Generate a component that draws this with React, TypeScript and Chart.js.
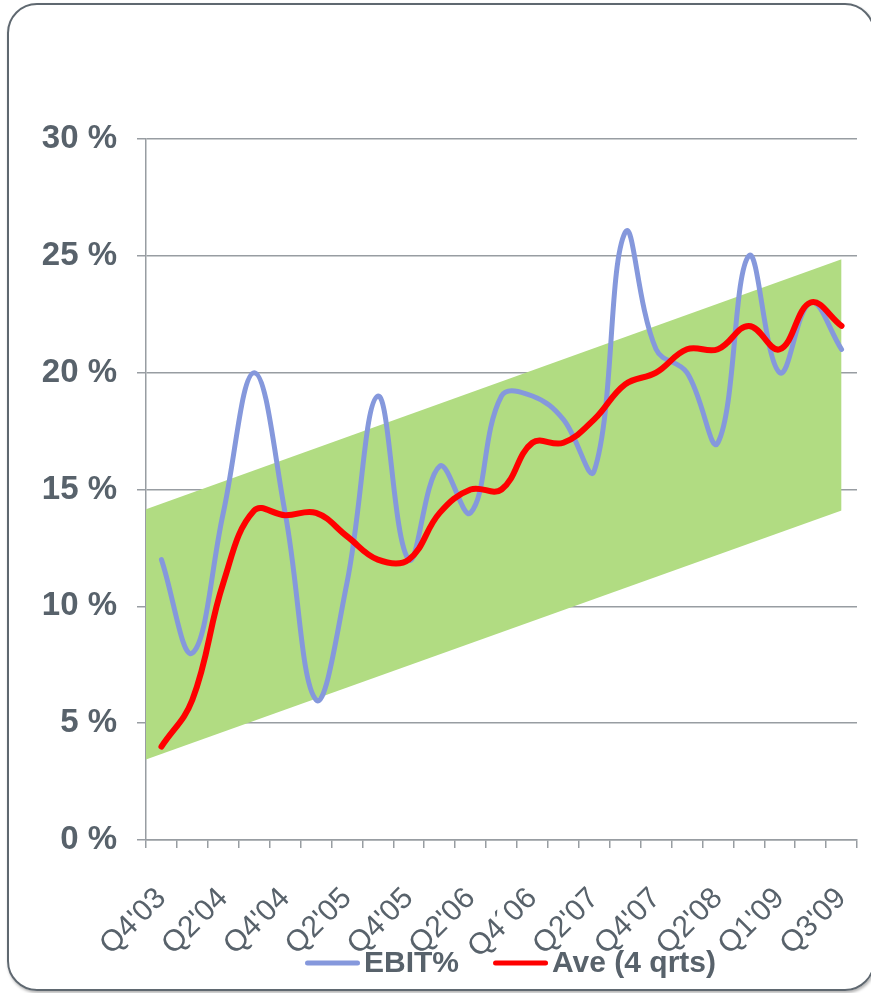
import React, { useEffect, useRef } from 'react';
import { Chart, registerables } from 'chart.js';

Chart.register(...registerables);

// Quarters (category axis); labels shown on every other quarter
const quarters = [
  "Q4'03", "Q1'04", "Q2'04", "Q3'04", "Q4'04", "Q1'05", "Q2'05", "Q3'05",
  "Q4'05", "Q1'06", "Q2'06", "Q3'06", "Q4´06", "Q1'07", "Q2'07", "Q3'07",
  "Q4'07", "Q1'08", "Q2'08", "Q3'08", "Q1'09", "Q2'09", "Q3'09",
];

// EBIT % per quarter
const ebitValues = [12, 8, 14, 20, 14, 6, 11, 19, 12, 16, 14, 19, 19, 18, 15.8, 26, 21, 20, 17, 25, 20, 23, 21];
// 4-quarter average
const aveValues = [4, 6, 11, 14.1, 13.9, 14, 13, 12, 12, 14, 15, 15, 17, 17, 18, 19.5, 20, 21, 21, 22, 21, 23, 22];

// Trend band (positions in category-index units, low / high values in %)
const bandPositions = [-0.5, 22];
const bandLow = [3.45, 14.1];
const bandHigh = [14.15, 24.85];

// Y axis ticks
const yMin = 0;
const yMax = 30;
const yStep = 5;

const TEXT = '#58626b';
const GRID = '#989da2';
const FONT = "'Liberation Sans', Arial, sans-serif";

const legendPlugin = {
  id: 'lineLegend',
  afterDraw(chart: any) {
    const ctx = chart.ctx as CanvasRenderingContext2D;
    const items = chart.data.datasets
      .filter((d: any) => d.legendRank !== undefined)
      .sort((a: any, b: any) => a.legendRank - b.legendRank);
    ctx.save();
    ctx.font = `bold 30px ${FONT}`;
    const lineLen = 55;
    const gap = 4;
    const sep = 34;
    const widths = items.map((d: any) => ctx.measureText(d.label).width);
    const total = widths.reduce((s: number, w: number) => s + lineLen + gap + w, 0) + sep * (items.length - 1);
    const { left, right, bottom } = chart.chartArea;
    let x = (left + right) / 2 + 9 - total / 2;
    const y = bottom + 123;
    items.forEach((d: any, i: number) => {
      ctx.strokeStyle = d.borderColor;
      ctx.lineWidth = 5;
      ctx.lineCap = 'round';
      ctx.beginPath();
      ctx.moveTo(x + 2.5, y);
      ctx.lineTo(x + lineLen - 2.5, y);
      ctx.stroke();
      ctx.fillStyle = TEXT;
      ctx.textBaseline = 'middle';
      ctx.textAlign = 'left';
      ctx.fillText(d.label, x + lineLen + gap, y + 1);
      x += lineLen + gap + widths[i] + sep;
    });
    ctx.restore();
  },
};

export default function App() {
  const canvasRef = useRef<HTMLCanvasElement | null>(null);

  useEffect(() => {
    if (!canvasRef.current) return;
    const chart = new Chart(canvasRef.current, {
      type: 'line',
      data: {
        labels: quarters,
        datasets: [
          {
            label: 'Ave (4 qrts)',
            data: aveValues,
            borderColor: '#ff0000',
            backgroundColor: '#ff0000',
            borderWidth: 6,
            pointRadius: 0,
            tension: 0.4,
            borderCapStyle: 'round',
            borderJoinStyle: 'round',
            fill: false,
            order: 0,
            legendRank: 1,
          } as any,
          {
            label: 'EBIT%',
            data: ebitValues,
            borderColor: '#8598dc',
            backgroundColor: '#8598dc',
            borderWidth: 5,
            pointRadius: 0,
            tension: 0.4,
            borderCapStyle: 'round',
            borderJoinStyle: 'round',
            fill: false,
            order: 1,
            legendRank: 0,
          } as any,
          {
            label: 'band high',
            data: bandPositions.map((p, i) => ({ x: p, y: bandHigh[i] })),
            xAxisID: 'x2',
            borderWidth: 0,
            borderColor: 'rgba(0,0,0,0)',
            backgroundColor: '#b1dc82',
            pointRadius: 0,
            tension: 0,
            fill: 3,
            order: 2,
          } as any,
          {
            label: 'band low',
            data: bandPositions.map((p, i) => ({ x: p, y: bandLow[i] })),
            xAxisID: 'x2',
            borderWidth: 0,
            borderColor: 'rgba(0,0,0,0)',
            backgroundColor: '#b1dc82',
            pointRadius: 0,
            tension: 0,
            fill: false,
            order: 3,
          } as any,
        ],
      },
      options: {
        animation: false,
        responsive: false,
        devicePixelRatio: 1,
        layout: { padding: { top: 139, right: 14, left: 0, bottom: 0 } },
        plugins: {
          legend: { display: false },
          tooltip: { enabled: false },
        },
        scales: {
          x: {
            type: 'category',
            offset: true,
            grid: {
              offset: true,
              drawOnChartArea: false,
              drawTicks: true,
              tickLength: 8,
              color: GRID,
              lineWidth: 1.5,
            },
            border: { display: true, color: GRID, width: 1.5 },
            ticks: {
              autoSkip: false,
              minRotation: 45,
              maxRotation: 45,
              padding: 33,
              color: TEXT,
              font: { family: FONT, size: 30 },
              callback: (_v: any, index: number) => (index % 2 === 0 ? quarters[index] : ''),
            },
            afterFit: (scale: any) => {
              scale.height = 153;
              scale.paddingRight = 0;
              scale.paddingLeft = 0;
            },
          },
          x2: {
            type: 'linear',
            axis: 'x',
            display: false,
            min: -0.5,
            max: quarters.length - 0.5,
          } as any,
          y: {
            min: yMin,
            max: yMax,
            grid: {
              color: GRID,
              lineWidth: 1.5,
              drawTicks: true,
              tickLength: 9,
            },
            border: { display: true, color: GRID, width: 1.5 },
            ticks: {
              stepSize: yStep,
              padding: 20,
              color: TEXT,
              font: { family: FONT, size: 33, weight: 'bold' },
              callback: (v: any) => `${v} %`,
            },
            afterFit: (scale: any) => {
              scale.width = 146;
            },
          },
        },
      },
      plugins: [legendPlugin],
    } as any);
    return () => chart.destroy();
  }, []);

  return (
    <div
      style={{
        position: 'fixed',
        left: 0,
        top: 0,
        width: 871,
        height: 993,
        overflow: 'hidden',
        background: '#ffffff',
      }}
    >
      <div
        style={{
          position: 'absolute',
          left: 7,
          top: 3,
          width: 868,
          height: 988,
          boxSizing: 'border-box',
          border: '2.5px solid #5f6870',
          borderRadius: 30,
          boxShadow: '1px 2px 3px rgba(0,0,0,0.3)',
        }}
      />
      <canvas
        ref={canvasRef}
        width={871}
        height={993}
        style={{ position: 'absolute', left: 0, top: 0 }}
      />
    </div>
  );
}
